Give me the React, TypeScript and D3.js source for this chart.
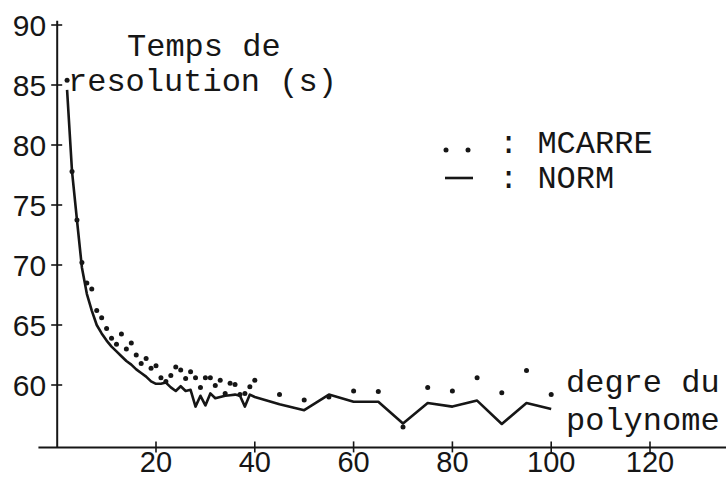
import * as d3 from "d3";

// degree of the polynomial (x)
const degrees = [
  2, 3, 4, 5, 6, 7, 8, 9, 10, 11, 12, 13, 14, 15, 16, 17, 18, 19, 20, 21,
  22, 23, 24, 25, 26, 27, 28, 29, 30, 31, 32, 33, 34, 35, 36, 37, 38, 39, 40,
  45, 50, 55, 60, 65, 70, 75, 80, 85, 90, 95, 100,
];

// resolution time (s), dotted series
const mcarre = [
  85.4, 77.8, 73.75, 70.2, 68.5, 68.0, 66.2, 65.6, 64.7, 63.9, 63.4, 64.25,
  63.0, 63.5, 62.5, 61.8, 62.2, 61.4, 61.6, 60.6, 60.3, 60.8, 61.5, 61.25,
  60.55, 61.1, 60.6, 59.8, 60.6, 60.6, 59.95, 60.4, 59.3, 60.15, 60.05, 59.2,
  59.3, 59.85, 60.4, 59.2, 58.75, 59.0, 59.5, 59.45, 56.5, 59.8, 59.5, 60.6,
  59.35, 61.2, 59.2,
];

// resolution time (s), solid series
const norm = [
  84.6, 77.8, 73.75, 69.8, 67.6, 66.2, 65.0, 64.3, 63.7, 63.2, 62.8, 62.4,
  62.0, 61.7, 61.3, 61.0, 60.7, 60.3, 60.1, 60.1, 60.2, 59.8, 59.5, 59.9,
  59.5, 59.6, 58.2, 59.1, 58.3, 59.3, 58.9, 59.0, 59.1, 59.15, 59.2, 59.1,
  58.2, 59.2, 59.0, 58.4, 57.9, 59.2, 58.6, 58.6, 56.8, 58.5, 58.2, 58.7,
  56.75, 58.5, 58.0,
];

const xTicks = [20, 40, 60, 80, 100, 120];
const yTicks = [60, 65, 70, 75, 80, 85, 90];

const W = 726;
const H = 479;
const ink = "#161616";
const mono = "'Liberation Mono', 'DejaVu Sans Mono', monospace";
const sans = "'Liberation Sans', Arial, sans-serif";

export default function App() {
  const x = d3.scaleLinear().domain([0, 120]).range([57.2, 650]);
  const y = d3.scaleLinear().domain([60, 90]).range([385, 25]);

  const axisY = y(54.8);
  const rows = degrees.map((d, i) => ({ d, m: mcarre[i], n: norm[i] }));

  const line = d3
    .line<{ d: number; n: number }>()
    .x((r) => x(r.d))
    .y((r) => y(r.n));

  return (
    <svg
      width={W}
      height={H}
      style={{ position: "absolute", left: 0, top: 0, background: "#fff" }}
    >
      {/* axes */}
      <line x1={x(-3.8)} x2={x(140)} y1={axisY} y2={axisY} stroke={ink} strokeWidth={2} />
      <line x1={x(0)} x2={x(0)} y1={y(90.35)} y2={axisY} stroke={ink} strokeWidth={2} />

      {yTicks.map((t) => (
        <g key={"y" + t}>
          <line x1={x(0) - 6} x2={x(0) + 5} y1={y(t)} y2={y(t)} stroke={ink} strokeWidth={1.6} />
          <text
            x={x(0) - 11}
            y={y(t)}
            dy="0.36em"
            textAnchor="end"
            fontFamily={sans}
            fontSize={30}
            fill={ink}
          >
            {t}
          </text>
        </g>
      ))}

      {xTicks.map((t) => (
        <g key={"x" + t}>
          <line x1={x(t)} x2={x(t)} y1={axisY - 6} y2={axisY + 5} stroke={ink} strokeWidth={1.6} />
          <text
            x={x(t)}
            y={472}
            textAnchor="middle"
            fontFamily={sans}
            fontSize={29}
            fill={ink}
          >
            {t}
          </text>
        </g>
      ))}

      {/* NORM */}
      <path d={line(rows) ?? ""} fill="none" stroke={ink} strokeWidth={2.6} strokeLinejoin="round" />

      {/* MCARRE */}
      {rows.map((r) => (
        <circle key={"m" + r.d} cx={x(r.d)} cy={y(r.m)} r={2.5} fill={ink} />
      ))}

      {/* titles */}
      <g fontFamily={mono} fontSize={32} fill={ink}>
        <text x={127} y={56}>Temps de</text>
        <text x={68} y={91}>resolution (s)</text>
        <text x={566} y={392}>degre du</text>
        <text x={566} y={430}>polynome</text>
      </g>

      {/* legend */}
      <circle cx={446} cy={150} r={2.5} fill={ink} />
      <circle cx={468} cy={150} r={2.5} fill={ink} />
      <line x1={445} x2={473} y1={178} y2={178} stroke={ink} strokeWidth={2.6} />
      <g fontFamily={mono} fontSize={32} fill={ink}>
        <text x={499} y={153}>: MCARRE</text>
        <text x={499} y={188}>: NORM</text>
      </g>
    </svg>
  );
}
